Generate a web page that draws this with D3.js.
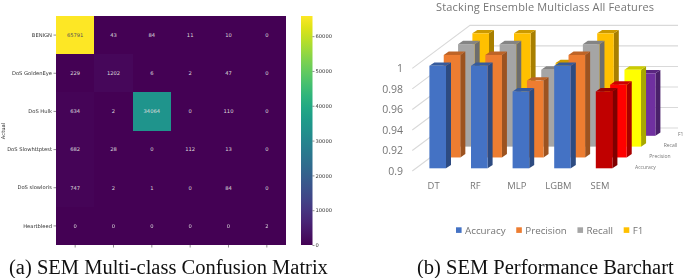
<!DOCTYPE html>
<html>
<head>
<meta charset="utf-8">
<script src="https://cdnjs.cloudflare.com/ajax/libs/d3/7.8.5/d3.min.js"></script>
<style>
  html, body { margin: 0; padding: 0; background: #fff; }
  svg { display: block; filter: blur(0.45px); }
  .hm text { font-family: "DejaVu Sans", sans-serif; font-size: 5.2px; }
  .hm .domain { display: none; }
  .bars text { font-family: "Open Sans", sans-serif; fill: #757575; }
  .caption { font-family: "Liberation Serif", serif; font-size: 20.5px; fill: #111; }
</style>
</head>
<body>
<svg id="chart" width="685" height="278"></svg>
<script>
/* confusion matrix data */
var classes = ["BENIGN", "DoS GoldenEye", "DoS Hulk", "DoS Slowhttptest", "DoS slowloris", "Heartbleed"];
var matrix = [
  [65791, 43, 84, 11, 10, 0],
  [229, 1202, 6, 2, 47, 0],
  [634, 2, 34064, 0, 110, 0],
  [682, 28, 0, 112, 13, 0],
  [747, 2, 1, 0, 84, 0],
  [0, 0, 0, 0, 0, 2]
];
var colorbarTicks = [0, 10000, 20000, 30000, 40000, 50000, 60000];

/* bar chart data */
var models = ["DT", "RF", "MLP", "LGBM", "SEM"];
var metrics = ["Accuracy", "Precision", "Recall", "F1"];
var accuracy = [1, 1, 0.975, 1, 0.975];
var precision = [1, 1, 0.975, 1, 0.971];
var recall = [1, 1, 0.975, 1, 0.975];
var f1 = [1, 1, 0.971, 1, 0.961];
var metricColors = ["#4472c4", "#ed7d31", "#a5a5a5", "#ffc000"];
var semColors = ["#c00000", "#ff0000", "#ffff00", "#7030a0"];
var valueTicks = [0.9, 0.92, 0.94, 0.96, 0.98, 1];

var svg = d3.select("#chart");

/* ---- left: heatmap ---- */
var hm = svg.append("g").attr("class", "hm");
var x = d3.scaleBand().domain(d3.range(6)).range([56, 286]);
var y = d3.scaleBand().domain(classes).range([16, 245]);
var color = d3.scaleSequential(d3.interpolateViridis).domain([0, 65791]);

// backing rect so no white shows through the cell seams
hm.append("rect")
  .attr("x", 56).attr("y", 16).attr("width", 230).attr("height", 229)
  .attr("fill", color(0));

var rows = hm.selectAll(".row").data(matrix).enter().append("g")
  .attr("transform", function (d, i) { return "translate(0," + y(classes[i]) + ")"; });

rows.selectAll("rect").data(function (d) { return d; }).enter().append("rect")
  .attr("x", function (d, i) { return x(i); })
  .attr("width", x.bandwidth())
  .attr("height", y.bandwidth())
  .attr("shape-rendering", "crispEdges")
  .attr("fill", function (d) { return color(d); });

rows.selectAll("text").data(function (d) { return d; }).enter().append("text")
  .attr("x", function (d, i) { return x(i) + x.bandwidth() / 2; })
  .attr("y", y.bandwidth() / 2)
  .attr("dy", "0.35em")
  .attr("text-anchor", "middle")
  .attr("fill", function (d) { return d > 60000 ? "#555" : "#ddd"; })
  .text(function (d) { return d; });

hm.append("g").attr("transform", "translate(56,0)")
  .call(d3.axisLeft(y).tickSize(2.5).tickPadding(1.5))
  .selectAll("text").attr("fill", "#333");

hm.append("g").attr("transform", "translate(0,245)")
  .call(d3.axisBottom(x).tickSize(2.5).tickFormat(""));

hm.selectAll(".tick line").attr("stroke", "#444").attr("stroke-width", 0.6);

hm.append("text")
  .attr("transform", "translate(5,131) rotate(-90)")
  .attr("text-anchor", "middle")
  .attr("fill", "#333")
  .text("Actual");

// colorbar
var cbY = d3.scaleLinear().domain([0, 65791]).range([245, 16]);
var grad = svg.append("defs").append("linearGradient")
  .attr("id", "viridis").attr("x1", 0).attr("y1", 1).attr("x2", 0).attr("y2", 0);
grad.selectAll("stop").data(d3.range(0, 1.001, 0.05)).enter().append("stop")
  .attr("offset", function (d) { return d; })
  .attr("stop-color", function (d) { return d3.interpolateViridis(d); });

hm.append("rect")
  .attr("x", 301).attr("y", 16).attr("width", 11.5).attr("height", 229)
  .attr("fill", "url(#viridis)");

var cbAxis = hm.append("g").attr("transform", "translate(312.5,0)")
  .call(d3.axisRight(cbY).tickValues(colorbarTicks).tickFormat(d3.format("d")).tickSize(2).tickPadding(1));
cbAxis.selectAll("text").attr("fill", "#333");
cbAxis.selectAll(".tick line").attr("stroke", "#444").attr("stroke-width", 0.6);

/* ---- right: fake 3D bars ---- */
var bars = svg.append("g").attr("class", "bars");
var seriesValues = [accuracy, precision, recall, f1];

var xCat = d3.scalePoint().domain(models).range([429.4, 595.8]);
var depthX = d3.scalePoint().domain(metrics).range([0, 43]);
var depthY = d3.scalePoint().domain(metrics).range([0, -32.5]);
var heightScale = d3.scaleLinear().domain([0.9, 1]).range([0, 102.5]);

var barW = 16.6, sideX = 5, sideY = -3.4, baseY = 168.3;
var wallDx = 57.7, wallDy = -43;
var axisY = d3.scaleLinear().domain([0.9, 1]).range([171, 68.4]);

function shade(c, k) {
  var r = d3.rgb(c);
  return d3.rgb(r.r * k, r.g * k, r.b * k).formatHex();
}

// walls
var grid = bars.append("g");
grid.selectAll("path").data(valueTicks).enter().append("path")
  .attr("d", function (d) {
    var y0 = axisY(d);
    return "M412.3," + y0 + "L" + (412.3 + wallDx) + "," + (y0 + wallDy) + "L678," + (y0 + wallDy);
  })
  .attr("fill", "none")
  .attr("stroke", "#d9d9d9")
  .attr("stroke-width", 1.1);

bars.selectAll(".ylab").data(valueTicks).enter().append("text")
  .attr("class", "ylab")
  .attr("x", 403)
  .attr("y", function (d) { return axisY(d); })
  .attr("dy", "0.35em")
  .attr("text-anchor", "end")
  .attr("font-size", 10.5)
  .text(function (d) { return d; });

// back row first so the front rows sit on top
metrics.slice().reverse().forEach(function (metric) {
  var m = metrics.indexOf(metric);
  var row = bars.append("g");
  var one = row.selectAll("g").data(seriesValues[m]).enter().append("g");

  function fillOf(i) {
    return models[i] === "SEM" ? semColors[m] : metricColors[m];
  }
  function left(i) { return xCat(models[i]) + depthX(metric); }
  function bottom() { return baseY + depthY(metric); }

  one.append("path") // side face
    .attr("d", function (d, i) {
      var r = left(i) + barW, b = bottom(), t = b - heightScale(d);
      return "M" + r + "," + b + "L" + (r + sideX) + "," + (b + sideY) +
        "L" + (r + sideX) + "," + (t + sideY) + "L" + r + "," + t + "Z";
    })
    .attr("fill", function (d, i) { return shade(fillOf(i), 0.66); });

  one.append("path") // top face
    .attr("d", function (d, i) {
      var l = left(i), t = bottom() - heightScale(d);
      return "M" + l + "," + t + "L" + (l + sideX) + "," + (t + sideY) +
        "L" + (l + barW + sideX) + "," + (t + sideY) + "L" + (l + barW) + "," + t + "Z";
    })
    .attr("fill", function (d, i) { return shade(fillOf(i), 0.8); });

  one.append("rect") // front face
    .attr("x", function (d, i) { return left(i); })
    .attr("y", function (d) { return bottom() - heightScale(d); })
    .attr("width", barW)
    .attr("height", function (d) { return heightScale(d); })
    .attr("fill", function (d, i) { return fillOf(i); });
});

bars.selectAll(".cat").data(models).enter().append("text")
  .attr("class", "cat")
  .attr("x", function (d) { return xCat(d) + 4.2; })
  .attr("y", 186)
  .attr("dy", "0.35em")
  .attr("text-anchor", "middle")
  .attr("font-size", 9.4)
  .text(function (d) { return d; });

bars.selectAll(".depth").data(metrics).enter().append("text")
  .attr("class", "depth")
  .attr("x", function (d) { return 635 + depthX(d); })
  .attr("y", function (d) { return 166.8 + depthY(d); })
  .attr("dy", "0.35em")
  .attr("font-size", 5)
  .attr("fill", "#595959")
  .text(function (d) { return d; });

bars.append("text")
  .attr("x", 545.2).attr("y", 7)
  .attr("dy", "0.35em")
  .attr("text-anchor", "middle")
  .attr("font-size", 11)
  .attr("letter-spacing", 0.15)
  .text("Stacking Ensemble Multiclass All Features");

// legend, laid out by text width
var lx = 456;
metrics.forEach(function (metric, i) {
  bars.append("rect")
    .attr("x", lx).attr("y", 227.3).attr("width", 5.6).attr("height", 5.6)
    .attr("fill", metricColors[i]);
  var t = bars.append("text")
    .attr("x", lx + 9).attr("y", 230.3)
    .attr("dy", "0.35em")
    .attr("font-size", 9.8)
    .text(metric);
  lx += 9 + t.node().getComputedTextLength() + 10.6;
});

/* captions */
svg.append("text").attr("class", "caption")
  .attr("x", 9).attr("y", 274)
  .text("(a) SEM Multi-class Confusion Matrix");
svg.append("text").attr("class", "caption")
  .attr("x", 417).attr("y", 274)
  .text("(b) SEM Performance Barchart");
</script>
</body>
</html>
